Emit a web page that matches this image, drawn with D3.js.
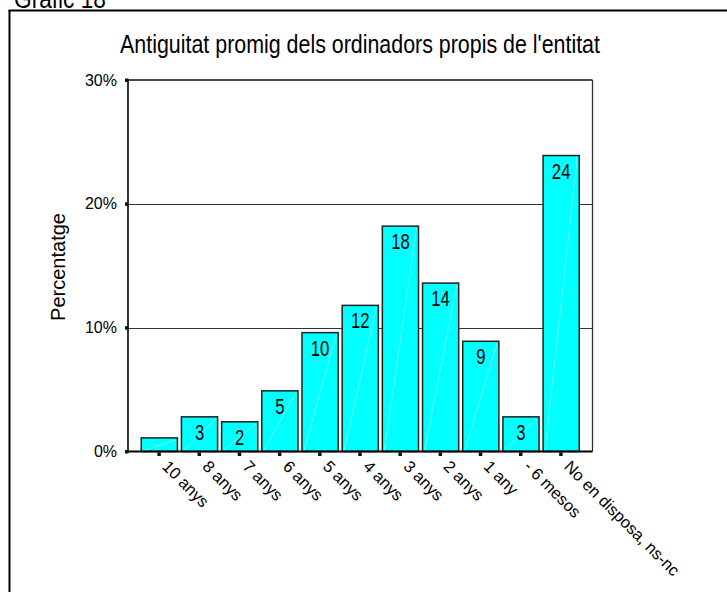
<!DOCTYPE html>
<html>
<head>
<meta charset="utf-8">
<script src="https://cdn.jsdelivr.net/npm/d3@7"></script>
<style>
  html, body { margin: 0; padding: 0; background: #fff; }
  svg { display: block; }
  text { font-family: "Liberation Sans", Arial, sans-serif; fill: #000; }
</style>
</head>
<body>
<svg id="chart" width="727" height="592"></svg>
<script>
// Antiguitat dels ordinadors: percentatge d'entitats per categoria
const categories = ["10 anys", "8 anys", "7 anys", "6 anys", "5 anys", "4 anys",
  "3 anys", "2 anys", "1 any", "- 6 mesos", "No en disposa, ns-nc"];
const percentages = [1.1, 2.8, 2.4, 4.9, 9.6, 11.8, 18.2, 13.6, 8.9, 2.8, 23.9];
const yTicks = [0, 10, 20, 30];
const yTickLabels = ["0%", "10%", "20%", "30%"];
const chartTitle = "Antiguitat promig dels ordinadors propis de l'entitat";
const figureLabel = "Gràfic 18";
const yAxisTitle = "Percentatge";

const svg = d3.select("#chart");
const W = 727, H = 592;

const plot = { left: 128, right: 592.5, top: 80, bottom: 451.5 };

// Narrow-looking text: horizontally compressed Liberation Sans
function narrowText(sel, x, y, size, scaleX, anchor) {
  return sel.append("text")
    .attr("transform", `translate(${x},${y}) scale(${scaleX},1)`)
    .attr("text-anchor", anchor)
    .style("font-size", size + "px");
}

// figure caption, mostly above the page edge
narrowText(svg, 14, 8, 27, 0.84, "start").text(figureLabel);

// outer frame (top and left sides)
svg.append("line").attr("x1", 8.5).attr("x2", W).attr("y1", 10.5).attr("y2", 10.5)
  .attr("stroke", "#000").attr("stroke-width", 2);
svg.append("line").attr("x1", 9.5).attr("x2", 9.5).attr("y1", 10).attr("y2", H)
  .attr("stroke", "#000").attr("stroke-width", 2);

// title, fitted to its width
const titleEl = svg.append("text")
  .attr("text-anchor", "middle")
  .style("font-size", "25px")
  .text(chartTitle);
const titleLen = titleEl.node().getComputedTextLength();
const titleScale = 480 / titleLen;
titleEl.attr("transform", `translate(360,53) scale(${titleScale},1)`);

// scales
const x = d3.scaleBand()
  .domain(categories)
  .range([plot.left, plot.right])
  .paddingInner(0.1)
  .paddingOuter(0.33);

const y = d3.scaleLinear()
  .domain([0, 30])
  .range([plot.bottom, plot.top]);

// horizontal grid lines (inner ones)
svg.append("g")
  .selectAll("line")
  .data(yTicks.filter(t => t > 0 && t < 30))
  .join("line")
  .attr("x1", plot.left).attr("x2", plot.right)
  .attr("y1", d => Math.round(y(d)) + 0.5).attr("y2", d => Math.round(y(d)) + 0.5)
  .attr("stroke", "#333").attr("stroke-width", 1.2);

// plot box: top and right edges
svg.append("line").attr("x1", plot.left).attr("x2", plot.right)
  .attr("y1", y(30)).attr("y2", y(30)).attr("stroke", "#111").attr("stroke-width", 1.5);
svg.append("line").attr("x1", plot.right).attr("x2", plot.right)
  .attr("y1", y(30)).attr("y2", y(0)).attr("stroke", "#333").attr("stroke-width", 1.3);

// bars
const bars = svg.append("g");
bars.selectAll("rect")
  .data(percentages)
  .join("rect")
  .attr("x", (d, i) => x(categories[i]))
  .attr("y", d => y(d))
  .attr("width", x.bandwidth())
  .attr("height", d => y(0) - y(d))
  .attr("fill", "#00ffff")
  .attr("stroke", "#222")
  .attr("stroke-width", 1.5);

// faint diagonal sheen inside each bar
bars.selectAll("line.sheen")
  .data(percentages)
  .join("line")
  .attr("class", "sheen")
  .attr("x1", (d, i) => x(categories[i]) + 2)
  .attr("y1", y(0) - 1)
  .attr("x2", (d, i) => x(categories[i]) + x.bandwidth() - 2)
  .attr("y2", d => y(d) + 2)
  .attr("stroke", "#fff").attr("stroke-opacity", 0.55).attr("stroke-width", 0.7);

// value labels inside the bars (bars too short to hold one stay bare)
const valueLabels = svg.append("g");
percentages.forEach((d, i) => {
  if (y(0) - y(d) < 25) return;
  narrowText(valueLabels, x(categories[i]) + x.bandwidth() / 2, y(d) + 23, 22, 0.76, "middle")
    .text(Math.round(d));
});

// axes lines
svg.append("line").attr("x1", plot.left).attr("x2", plot.left)
  .attr("y1", y(30)).attr("y2", y(0)).attr("stroke", "#000").attr("stroke-width", 1.6);
svg.append("line").attr("x1", plot.left - 2).attr("x2", plot.right)
  .attr("y1", y(0)).attr("y2", y(0)).attr("stroke", "#000").attr("stroke-width", 2.2);

// y axis: square tick markers and labels
const yAxis = svg.append("g");
yAxis.selectAll("rect")
  .data(yTicks)
  .join("rect")
  .attr("x", plot.left - 3).attr("y", d => y(d) - 1.5)
  .attr("width", 3.5).attr("height", 3.5)
  .attr("fill", "#111");
yAxis.selectAll("text")
  .data(yTicks)
  .join("text")
  .attr("x", plot.left - 11)
  .attr("y", d => y(d) + 5.5)
  .attr("text-anchor", "end")
  .style("font-size", "16px")
  .text((d, i) => yTickLabels[i]);

// y axis title
svg.append("text")
  .attr("transform", `translate(65,267) rotate(-90)`)
  .attr("text-anchor", "middle")
  .style("font-size", "20px")
  .text(yAxisTitle);

// x axis: square tick markers and slanted category labels
const xAxis = svg.append("g");
xAxis.selectAll("rect")
  .data(categories)
  .join("rect")
  .attr("x", d => x(d) + x.bandwidth() / 2 - 2)
  .attr("y", y(0) + 1)
  .attr("width", 3.5).attr("height", 3.5)
  .attr("fill", "#111");
xAxis.selectAll("text")
  .data(categories)
  .join("text")
  .attr("transform", d => `translate(${x(d) + x.bandwidth() / 2 + 2},${y(0) + 16}) rotate(45)`)
  .attr("text-anchor", "start")
  .style("font-size", "16.5px")
  .text(d => d);
</script>
</body>
</html>
